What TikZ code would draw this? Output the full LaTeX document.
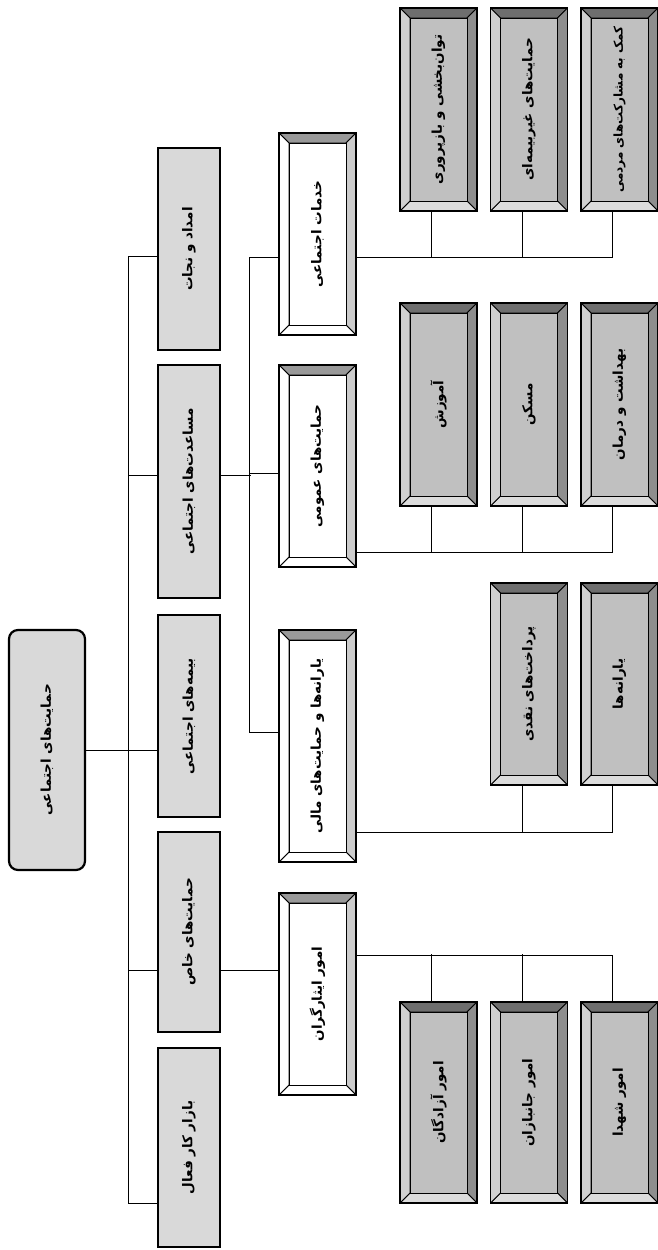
\documentclass[tikz,border=0pt]{standalone}
\usepackage{fontspec}
\usepackage{graphicx}
\TeXXeTstate=1
\newfontfamily\farsi[Script=Arabic]{DejaVu Sans}
\newcommand\fa[2][13.5]{\rotatebox{90}{\farsi\bfseries\fontsize{#1}{15}\selectfont\beginR #2\endR}}

\definecolor{boxgray}{HTML}{D9D9D9}
\definecolor{bvtop}{HTML}{6E6E6E}
\definecolor{bvright}{HTML}{8E8E8E}
\definecolor{bvbottom}{HTML}{DCDCDC}
\definecolor{bvleft}{HTML}{D0D0D0}
\definecolor{bvface}{HTML}{C0C0C0}
\definecolor{wttop}{HTML}{999999}
\definecolor{wtright}{HTML}{CCCCCC}

\newcommand\bevel[5]{%
  \coordinate (o1) at (path picture bounding box.north west);
  \coordinate (o2) at (path picture bounding box.north east);
  \coordinate (o3) at (path picture bounding box.south east);
  \coordinate (o4) at (path picture bounding box.south west);
  \coordinate (i1) at ([shift={(10pt,-10pt)}]o1);
  \coordinate (i2) at ([shift={(-10pt,-10pt)}]o2);
  \coordinate (i3) at ([shift={(-10pt,10pt)}]o3);
  \coordinate (i4) at ([shift={(10pt,10pt)}]o4);
  \filldraw[fill=#1, line width=0.8pt] (o1) -- (o2) -- (i2) -- (i1) -- cycle;
  \filldraw[fill=#2, line width=0.8pt] (o2) -- (o3) -- (i3) -- (i2) -- cycle;
  \filldraw[fill=#3, line width=0.8pt] (o3) -- (o4) -- (i4) -- (i3) -- cycle;
  \filldraw[fill=#4, line width=0.8pt] (o4) -- (o1) -- (i1) -- (i4) -- cycle;
  \filldraw[fill=#5, line width=1pt] (i1) -- (i2) -- (i3) -- (i4) -- cycle;
}

\tikzset{
  conn/.style = {line width=1pt},
  rootbox/.style = {draw, line width=2.2pt, rounded corners=9pt, fill=boxgray,
    minimum width=76pt, minimum height=240pt, inner sep=0pt},
  topic/.style = {draw, line width=2.2pt, fill=boxgray, minimum width=62pt, inner sep=0pt},
  branch/.style = {draw, line width=1.2pt, minimum width=77pt, minimum height=202pt, inner sep=0pt,
    path picture={\bevel{wttop}{wtright}{white}{white}{white}}},
  leaf/.style = {draw, line width=1.2pt, minimum width=77pt, minimum height=203pt, inner sep=0pt,
    path picture={\bevel{bvtop}{bvright}{bvbottom}{bvleft}{bvface}}}
}

\begin{document}
\begin{tikzpicture}[x=1pt, y=-1pt]
        \useasboundingbox (0,0) rectangle (658,1250);

        \node[rootbox] (root) at (47,750) {\fa{حمایت‌های اجتماعی}};

        \node[topic, minimum height=202pt] (amdad) at (189,249) {\fa{امداد و نجات}};
        \node[topic, minimum height=233pt] (masaadat) at (189,481.5) {\fa{مساعدت‌های اجتماعی}};
        \node[topic, minimum height=202pt] (bimeh) at (189,716) {\fa{بیمه‌های اجتماعی}};
        \node[topic, minimum height=200pt] (khas) at (189,932) {\fa{حمایت‌های خاص}};
        \node[topic, minimum height=199pt] (bazar) at (189,1147.5) {\fa{بازار کار فعال}};

        \node[branch] (khadamat) at (317.5,234) {\fa{خدمات اجتماعی}};
        \node[branch] (omumi) at (317.5,466) {\fa{حمایت‌های عمومی}};
        \node[branch, minimum height=232pt] (mali) at (317.5,746) {\fa{یارانه‌ها و حمایت‌های مالی}};
        \node[branch] (isargaran) at (317.5,994) {\fa{امور ایثارگران}};

        \node[leaf] (ka) at (438.5,109.5) {\fa{توان‌بخشی و بازپروری}};
        \node[leaf] (kb) at (529,109.5) {\fa{حمایت‌های غیربیمه‌ای}};
        \node[leaf] (kc) at (619.5,109.5) {\fa[12]{کمک به مشارکت‌های مردمی}};

        \node[leaf] (oa) at (438.5,404.5) {\fa{آموزش}};
        \node[leaf] (ob) at (529,404.5) {\fa{مسکن}};
        \node[leaf] (oc) at (619.5,404.5) {\fa{بهداشت و درمان}};

        \node[leaf, minimum height=202pt] (yb) at (529,684) {\fa{پرداخت‌های نقدی}};
        \node[leaf, minimum height=202pt] (yc) at (619.5,684) {\fa{یارانه‌ها}};

        \node[leaf, minimum height=201pt] (ia) at (438.5,1102.5) {\fa{امور آزادگان}};
        \node[leaf, minimum height=201pt] (ib) at (529,1102.5) {\fa{امور جانبازان}};
        \node[leaf, minimum height=201pt] (ic) at (619.5,1102.5) {\fa{امور شهدا}};

        % first level
        \draw[conn] (root.east) -- (root.east -| bimeh.west);
        \draw[conn] ([yshift=-7pt]amdad.west) -- ++(-28pt,0) |- ([yshift=-55.5pt]bazar.west);
        \draw[conn] ([yshift=6.5pt]masaadat.west) -- ++(-28pt,0);
        \draw[conn] ([yshift=-38pt]khas.west) -- ++(-28pt,0);

        % second level
        \draw[conn] ([yshift=6.5pt]masaadat.east) -- ++(30pt,0);
        \draw[conn] ([yshift=-23pt]khadamat.west) -- ++(-29pt,0) |- ([yshift=14pt]mali.west);
        \draw[conn] ([yshift=-7pt]omumi.west) -- ++(-29pt,0);
        \draw[conn] ([yshift=-38pt]khas.east) -- ([yshift=24pt]isargaran.west);

        % third level
        \draw[conn] ([yshift=-23pt]khadamat.east) -| ([xshift=-7pt]kc.south);
        \draw[conn] ([xshift=-7pt]ka.south) -- ++(0,-46pt);
        \draw[conn] ([xshift=-7pt]kb.south) -- ++(0,-46pt);

        \draw[conn] ([yshift=-86pt]omumi.east) -| ([xshift=-7pt]oc.south);
        \draw[conn] ([xshift=-7pt]oa.south) -- ++(0,-46pt);
        \draw[conn] ([xshift=-7pt]ob.south) -- ++(0,-46pt);

        \draw[conn] ([yshift=-86pt]mali.east) -| ([xshift=-7pt]yc.south);
        \draw[conn] ([xshift=-7pt]yb.south) -- ++(0,-47pt);

        \draw[conn] ([yshift=39pt]isargaran.east) -| ([xshift=-7pt]ic.north);
        \draw[conn] ([xshift=-7pt]ia.north) -- ++(0,47pt);
        \draw[conn] ([xshift=-7pt]ib.north) -- ++(0,47pt);
\end{tikzpicture}
\end{document}
